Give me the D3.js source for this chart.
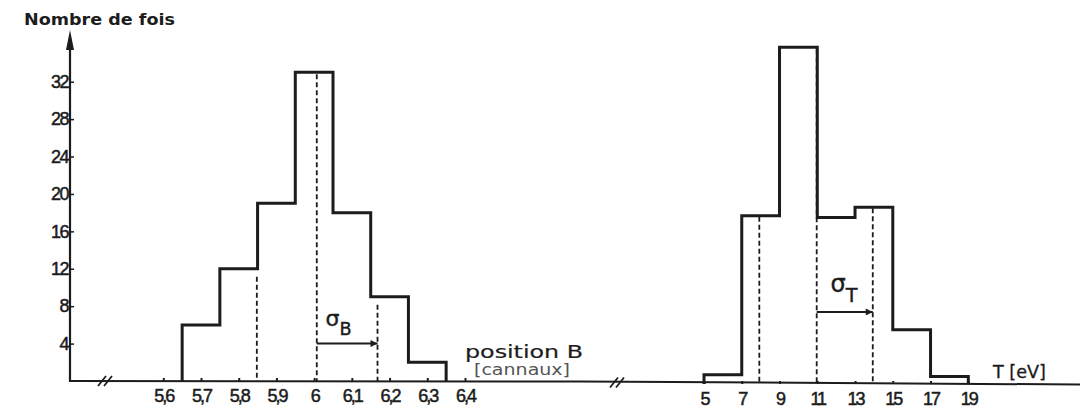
<!DOCTYPE html>
<html>
<head>
<meta charset="utf-8">
<script src="https://cdn.jsdelivr.net/npm/d3@7"></script>
<style>
  body { margin: 0; background: #fff; }
  svg { display: block; font-family: "DejaVu Sans", sans-serif; }
</style>
</head>
<body>
<div id="chart"></div>
<script>
// histogram B (position, canaux)
let edgesB = [5.65, 5.75, 5.85, 5.95, 6.05, 6.15, 6.25, 6.35];
let countsB = [6, 12, 19, 33, 18, 9, 2];
let ticksB = [5.6, 5.7, 5.8, 5.9, 6.0, 6.1, 6.2, 6.3, 6.4];
let tickLabelsB = ["5,6", "5,7", "5,8", "5,9", "6", "6,1", "6,2", "6,3", "6,4"];
let meanB = 6.007;
let sigmaLinesB = [5.848, 6.168];

// histogram T (eV)
let edgesT = [5, 7, 9, 11, 13, 15, 17, 19];
let countsT = [1, 18, 36, 17.8, 18.9, 5.8, 0.8];
let ticksT = [5, 7, 9, 11, 13, 15, 17, 19];
let meanT = 10.97;
let sigmaLinesT = [7.93, 13.94];

let yTicks = [4, 8, 12, 16, 20, 24, 28, 32];

let width = 1083, height = 417;
let ink = "#1c1c1c";

let svg = d3.select("#chart").append("svg")
    .attr("width", width)
    .attr("height", height);

let defs = svg.append("defs");
defs.append("marker")
    .attr("id", "head")
    .attr("viewBox", "0 0 10 10")
    .attr("refX", 10).attr("refY", 5)
    .attr("markerWidth", 10).attr("markerHeight", 7)
    .attr("markerUnits", "userSpaceOnUse")
    .attr("orient", "auto")
    .append("path")
    .attr("d", "M0,0 L10,5 L0,10 Z")
    .attr("fill", ink);

// scales
let xB = d3.scaleLinear().domain([5.6, 6.4]).range([163.3, 465]);
let yB = d3.scaleLinear().domain([0, 32]).range([381, 81.7]);
let xT = d3.scaleLinear().domain([5, 19]).range([704, 968.3]);
let yT = d3.scaleLinear().domain([0, 32]).range([384, 84.7]);

function stepPoints(edges, counts) {
    let pts = [[edges[0], 0]];
    counts.forEach(function(c, i) {
        pts.push([edges[i], c]);
        pts.push([edges[i + 1], c]);
    });
    pts.push([edges[edges.length - 1], 0]);
    return pts;
}

function heightAt(v, edges, counts) {
    for (let i = 0; i < counts.length; i++) {
        if (v >= edges[i] && v <= edges[i + 1]) return counts[i];
    }
    return 0;
}

function drawHist(x, y, edges, counts, mean, sigmas, arrowVal, gap) {
    let g = svg.append("g");
    let line = d3.line()
        .x(function(d) { return x(d[0]); })
        .y(function(d) { return y(d[1]); });

    // dashed lines (mean and sigma)
    let dashes = [sigmas[0], mean, sigmas[1]];
    g.selectAll(".dash")
        .data(dashes)
        .enter().append("line")
        .attr("class", "dash")
        .attr("x1", function(d) { return x(d); })
        .attr("x2", function(d) { return x(d); })
        .attr("y1", function(d, i) { return y(heightAt(d, edges, counts)) + (i == 1 ? 2 : gap); })
        .attr("y2", y(0))
        .attr("stroke", ink)
        .attr("stroke-width", 1.8)
        .attr("stroke-dasharray", "5,3");

    g.append("path")
        .datum(stepPoints(edges, counts))
        .attr("d", line)
        .attr("fill", "none")
        .attr("stroke", ink)
        .attr("stroke-width", 3)
        .attr("stroke-linejoin", "miter");

    // sigma arrow
    g.append("line")
        .attr("x1", x(mean))
        .attr("x2", x(sigmas[1]))
        .attr("y1", y(arrowVal))
        .attr("y2", y(arrowVal))
        .attr("stroke", ink)
        .attr("stroke-width", 2)
        .attr("marker-end", "url(#head)");
    return g;
}

drawHist(xB, yB, edgesB, countsB, meanB, sigmaLinesB, 4.0, 8);
drawHist(xT, yT, edgesT, countsT, meanT, sigmaLinesT, 7.7, 1);

// baseline, broken on both sides
svg.append("path")
    .attr("d", "M70,381 L580,381.5 L1080,384.5")
    .attr("fill", "none")
    .attr("stroke", ink)
    .attr("stroke-width", 2);

function breakMark(cx, cy) {
    [-3, 3].forEach(function(dx) {
        svg.append("line")
            .attr("x1", cx + dx - 4).attr("y1", cy + 5)
            .attr("x2", cx + dx + 4).attr("y2", cy - 5)
            .attr("stroke", ink)
            .attr("stroke-width", 1.8);
    });
}
breakMark(105, 381);
breakMark(617, 382.5);

// y axis
let yAxis = svg.append("g")
    .attr("transform", "translate(70,0)")
    .call(d3.axisLeft(yB).tickValues(yTicks).tickSizeInner(-4).tickSizeOuter(0).tickPadding(2));
yAxis.select(".domain").remove();
yAxis.selectAll("line").attr("stroke", ink).attr("stroke-width", 1.5);
yAxis.selectAll("text")
    .attr("fill", ink)
    .attr("stroke", ink)
    .attr("stroke-width", 0.5)
    .style("font-size", "18px")
    .style("letter-spacing", "-1.5px");

svg.append("line")
    .attr("x1", 70).attr("x2", 70)
    .attr("y1", 382).attr("y2", 46)
    .attr("stroke", ink)
    .attr("stroke-width", 2.2);
svg.append("path")
    .attr("d", "M70,30 L74,50 L66,50 Z")
    .attr("fill", ink);

// x axes
let axB = svg.append("g")
    .attr("transform", "translate(0,381)")
    .call(d3.axisBottom(xB).tickValues(ticksB)
        .tickFormat(function(d, i) { return tickLabelsB[i]; })
        .tickSizeInner(-3).tickSizeOuter(0).tickPadding(8));
let axT = svg.append("g")
    .attr("transform", "translate(0,384)")
    .call(d3.axisBottom(xT).tickValues(ticksT)
        .tickSizeInner(-3).tickSizeOuter(0).tickPadding(8));
[axB, axT].forEach(function(a) {
    a.select(".domain").remove();
    a.selectAll("line").attr("stroke", ink).attr("stroke-width", 2);
    a.selectAll("text")
        .attr("fill", ink)
        .attr("stroke", ink)
        .attr("stroke-width", 0.5)
        .style("font-size", "18px")
        .style("letter-spacing", "-2px");
});

// labels
svg.append("text")
    .attr("x", 24).attr("y", 25)
    .attr("textLength", 151)
    .attr("lengthAdjust", "spacingAndGlyphs")
    .attr("fill", ink)
    .style("font-size", "16px")
    .style("font-weight", "bold")
    .text("Nombre de fois");

svg.append("text")
    .attr("x", 465).attr("y", 358)
    .attr("textLength", 118)
    .attr("lengthAdjust", "spacingAndGlyphs")
    .attr("fill", ink)
    .attr("stroke", ink)
    .attr("stroke-width", 0.2)
    .style("font-size", "18px")
    .text("position  B");

svg.append("text")
    .attr("x", 474).attr("y", 375)
    .attr("textLength", 96)
    .attr("lengthAdjust", "spacingAndGlyphs")
    .attr("fill", "#555")
    .style("font-size", "16px")
    .text("[cannaux]");

svg.append("text")
    .attr("x", 993).attr("y", 378)
    .attr("textLength", 53)
    .attr("lengthAdjust", "spacingAndGlyphs")
    .attr("fill", ink)
    .attr("stroke", ink)
    .attr("stroke-width", 0.3)
    .style("font-size", "17px")
    .text("T [eV]");

function sigmaLabel(x, y, size, sub) {
    let t = svg.append("text")
        .attr("x", x).attr("y", y)
        .attr("fill", ink)
        .attr("stroke", ink)
        .attr("stroke-width", 0.4)
        .style("font-size", size + "px");
    t.append("tspan").text("σ");
    t.append("tspan")
        .attr("dy", size * 0.4)
        .style("font-size", (size * 0.8) + "px")
        .text(sub);
}
sigmaLabel(xB(6.03), 326, 22, "B");
sigmaLabel(xT(11.7), 292, 24, "T");
</script>
</body>
</html>
